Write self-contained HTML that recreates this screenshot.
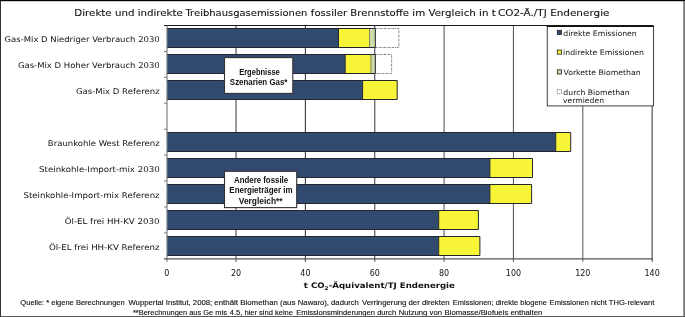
<!DOCTYPE html>
<html lang="de"><head><meta charset="utf-8"><title>Treibhausgasemissionen fossiler Brennstoffe</title>
<style>html,body{margin:0;padding:0;background:#fff}body{width:685px;height:317px;overflow:hidden}svg{display:block}text{fill:#111}</style>
</head><body>
<svg width="685" height="317" viewBox="0 0 685 317">
<rect x="0" y="0" width="685" height="317" fill="#fff"/>
<text x="74.39" y="16" font-family="'DejaVu Sans','Liberation Sans',sans-serif" font-size="9.5" font-weight="normal" textLength="108.48" lengthAdjust="spacingAndGlyphs" stroke="#111" stroke-width="0.1">Direkte und indirekte</text>
<text x="185.50" y="16" font-family="'DejaVu Sans','Liberation Sans',sans-serif" font-size="9.5" font-weight="normal" textLength="121.88" lengthAdjust="spacingAndGlyphs" stroke="#111" stroke-width="0.1">Treibhausgasemissionen</text>
<text x="310.85" y="16" font-family="'DejaVu Sans','Liberation Sans',sans-serif" font-size="9.5" font-weight="normal" textLength="98.06" lengthAdjust="spacingAndGlyphs" stroke="#111" stroke-width="0.1">fossiler Brennstoffe</text>
<text x="412.35" y="16" font-family="'DejaVu Sans','Liberation Sans',sans-serif" font-size="9.5" font-weight="normal" textLength="83.40" lengthAdjust="spacingAndGlyphs" stroke="#111" stroke-width="0.1">im Vergleich in t</text>
<text x="497.93" y="16" font-family="'DejaVu Sans','Liberation Sans',sans-serif" font-size="9.5" font-weight="normal" textLength="111.53" lengthAdjust="spacingAndGlyphs" stroke="#111" stroke-width="0.1">CO2-Ä./TJ Endenergie</text>
<g stroke="#4a4a4a" stroke-width="1.15" fill="none">
<line x1="236.05" y1="25.5" x2="236.05" y2="261.8" stroke="#525252"/>
<line x1="305.40" y1="25.5" x2="305.40" y2="261.8" stroke="#444"/>
<line x1="374.75" y1="25.5" x2="374.75" y2="261.8" stroke="#505050"/>
<line x1="444.10" y1="25.5" x2="444.10" y2="261.8" stroke="#626262"/>
<line x1="513.45" y1="25.5" x2="513.45" y2="261.8" stroke="#626262"/>
<line x1="582.80" y1="25.5" x2="582.80" y2="261.8" stroke="#6c6c6c"/>
<line x1="652.15" y1="25.5" x2="652.15" y2="261.8" stroke="#4a4a4a"/>
</g>
<line x1="164" y1="25.5" x2="652.75" y2="25.5" stroke="#1a1a1a" stroke-width="1.2"/>
<line x1="167.0" y1="25.5" x2="167.0" y2="261.8" stroke="#666" stroke-width="1.0"/>
<line x1="164" y1="258.8" x2="652.75" y2="258.8" stroke="#555" stroke-width="1.15"/>
<g stroke="#666" stroke-width="0.9">
<line x1="164" y1="51.42" x2="166.7" y2="51.42"/>
<line x1="164" y1="77.34" x2="166.7" y2="77.34"/>
<line x1="164" y1="103.27" x2="166.7" y2="103.27"/>
<line x1="164" y1="129.19" x2="166.7" y2="129.19"/>
<line x1="164" y1="155.11" x2="166.7" y2="155.11"/>
<line x1="164" y1="181.03" x2="166.7" y2="181.03"/>
<line x1="164" y1="206.96" x2="166.7" y2="206.96"/>
<line x1="164" y1="232.88" x2="166.7" y2="232.88"/>
</g>
<rect x="375.30" y="28.50" width="23.60" height="19.0" fill="#fff" stroke="#3c3c3c" stroke-width="0.65" stroke-dasharray="2 0.8 0.7 0.8"/>
<rect x="167.30" y="28.50" width="171.20" height="19.0" fill="#324a70"/>
<rect x="338.50" y="28.50" width="31.00" height="19.0" fill="#f8f438"/>
<rect x="369.50" y="28.50" width="5.80" height="19.0" fill="#d0dca8"/>
<path d="M167.30 28.50H375.30V47.50H167.30M338.50 28.50V47.50" fill="none" stroke="#23272f" stroke-width="1"/>
<path d="M369.50 28.50V47.50" fill="none" stroke="#5a5a4a" stroke-width="0.7"/>
<rect x="375.30" y="54.50" width="16.30" height="19.0" fill="#fff" stroke="#3c3c3c" stroke-width="0.65" stroke-dasharray="2 0.8 0.7 0.8"/>
<rect x="167.30" y="54.50" width="177.90" height="19.0" fill="#324a70"/>
<rect x="345.20" y="54.50" width="25.70" height="19.0" fill="#f8f438"/>
<rect x="370.90" y="54.50" width="4.40" height="19.0" fill="#d0dca8"/>
<path d="M167.30 54.50H375.30V73.50H167.30M345.20 54.50V73.50" fill="none" stroke="#23272f" stroke-width="1"/>
<path d="M370.90 54.50V73.50" fill="none" stroke="#5a5a4a" stroke-width="0.7"/>
<rect x="167.30" y="80.50" width="195.30" height="19.0" fill="#324a70"/>
<rect x="362.60" y="80.50" width="34.60" height="19.0" fill="#f8f438"/>
<path d="M167.30 80.50H397.20V99.50H167.30M362.60 80.50V99.50" fill="none" stroke="#23272f" stroke-width="1"/>
<rect x="167.30" y="132.50" width="388.40" height="19.0" fill="#324a70"/>
<rect x="555.70" y="132.50" width="15.00" height="19.0" fill="#f8f438"/>
<path d="M167.30 132.50H570.70V151.50H167.30M555.70 132.50V151.50" fill="none" stroke="#23272f" stroke-width="1"/>
<rect x="167.30" y="158.50" width="322.60" height="19.0" fill="#324a70"/>
<rect x="489.90" y="158.50" width="42.60" height="19.0" fill="#f8f438"/>
<path d="M167.30 158.50H532.50V177.50H167.30M489.90 158.50V177.50" fill="none" stroke="#23272f" stroke-width="1"/>
<rect x="167.30" y="184.50" width="322.60" height="19.0" fill="#324a70"/>
<rect x="489.90" y="184.50" width="41.70" height="19.0" fill="#f8f438"/>
<path d="M167.30 184.50H531.60V203.50H167.30M489.90 184.50V203.50" fill="none" stroke="#23272f" stroke-width="1"/>
<rect x="167.30" y="210.50" width="271.40" height="19.0" fill="#324a70"/>
<rect x="438.70" y="210.50" width="39.70" height="19.0" fill="#f8f438"/>
<path d="M167.30 210.50H478.40V229.50H167.30M438.70 210.50V229.50" fill="none" stroke="#23272f" stroke-width="1"/>
<rect x="167.30" y="236.50" width="271.40" height="19.0" fill="#324a70"/>
<rect x="438.70" y="236.50" width="41.20" height="19.0" fill="#f8f438"/>
<path d="M167.30 236.50H479.90V255.50H167.30M438.70 236.50V255.50" fill="none" stroke="#23272f" stroke-width="1"/>
<text x="4.50" y="42" font-family="'DejaVu Sans','Liberation Sans',sans-serif" font-size="7.9" font-weight="normal" textLength="155.26" lengthAdjust="spacingAndGlyphs" >Gas-Mix D Niedriger Verbrauch 2030</text>
<text x="17.93" y="68" font-family="'DejaVu Sans','Liberation Sans',sans-serif" font-size="7.9" font-weight="normal" textLength="141.80" lengthAdjust="spacingAndGlyphs" >Gas-Mix D Hoher Verbrauch 2030</text>
<text x="75.94" y="94" font-family="'DejaVu Sans','Liberation Sans',sans-serif" font-size="7.9" font-weight="normal" textLength="83.72" lengthAdjust="spacingAndGlyphs" >Gas-Mix D Referenz</text>
<text x="47.87" y="146" font-family="'DejaVu Sans','Liberation Sans',sans-serif" font-size="7.9" font-weight="normal" textLength="111.86" lengthAdjust="spacingAndGlyphs" >Braunkohle West Referenz</text>
<text x="39.09" y="172" font-family="'DejaVu Sans','Liberation Sans',sans-serif" font-size="7.9" font-weight="normal" textLength="120.60" lengthAdjust="spacingAndGlyphs" >Steinkohle-Import-mix 2030</text>
<text x="23.50" y="198" font-family="'DejaVu Sans','Liberation Sans',sans-serif" font-size="7.9" font-weight="normal" textLength="136.10" lengthAdjust="spacingAndGlyphs" >Steinkohle-Import-mix Referenz</text>
<text x="64.71" y="224" font-family="'DejaVu Sans','Liberation Sans',sans-serif" font-size="7.9" font-weight="normal" textLength="94.91" lengthAdjust="spacingAndGlyphs" >Öl-EL frei HH-KV 2030</text>
<text x="48.93" y="250" font-family="'DejaVu Sans','Liberation Sans',sans-serif" font-size="7.9" font-weight="normal" textLength="110.63" lengthAdjust="spacingAndGlyphs" >Öl-EL frei HH-KV Referenz</text>
<g font-family="'DejaVu Sans','Liberation Sans',sans-serif" font-size="8.0" text-anchor="middle">
<text x="166.7" y="275.6">0</text>
<text x="236.0" y="275.6">20</text>
<text x="305.4" y="275.6">40</text>
<text x="374.8" y="275.6">60</text>
<text x="444.1" y="275.6">80</text>
<text x="513.5" y="275.6">100</text>
<text x="582.8" y="275.6">120</text>
<text x="652.1" y="275.6">140</text>
</g>
<text x="303.85" y="288" font-family="'DejaVu Sans','Liberation Sans',sans-serif" font-size="7.6" font-weight="bold" textLength="151.08" lengthAdjust="spacingAndGlyphs" >t CO<tspan font-size="5.2" dy="1.6">2</tspan><tspan dy="-1.6">-Äquivalent/TJ Endenergie</tspan></text>
<rect x="547.3" y="26.3" width="106.2" height="79.6" fill="#fff" stroke="#484848" stroke-width="1.05"/>
<line x1="546.8" y1="26.2" x2="654" y2="26.2" stroke="#111" stroke-width="1.4"/>
<rect x="557.3" y="30.3" width="4.2" height="4.2" fill="#324a70" stroke="#222" stroke-width="0.8"/>
<rect x="557.3" y="50.0" width="4.2" height="4.2" fill="#f8f438" stroke="#222" stroke-width="0.8"/>
<rect x="557.3" y="69.8" width="4.2" height="4.2" fill="#d0dca8" stroke="#222" stroke-width="0.8"/>
<rect x="557.3" y="89.6" width="4.2" height="4.2" fill="#fff" stroke="#555" stroke-width="0.7" stroke-dasharray="1.2 0.8"/>
<text x="563.34" y="36" font-family="'DejaVu Sans','Liberation Sans',sans-serif" font-size="7.5" font-weight="normal" textLength="73.42" lengthAdjust="spacingAndGlyphs" >direkte Emissionen</text>
<text x="563.08" y="55" font-family="'DejaVu Sans','Liberation Sans',sans-serif" font-size="7.5" font-weight="normal" textLength="80.91" lengthAdjust="spacingAndGlyphs" >indirekte Emissionen</text>
<text x="563.43" y="75" font-family="'DejaVu Sans','Liberation Sans',sans-serif" font-size="7.5" font-weight="normal" textLength="77.27" lengthAdjust="spacingAndGlyphs" >Vorkette Biomethan</text>
<text x="563.33" y="95" font-family="'DejaVu Sans','Liberation Sans',sans-serif" font-size="7.5" font-weight="normal" textLength="66.41" lengthAdjust="spacingAndGlyphs" >durch Biomethan</text>
<text x="562.97" y="103" font-family="'DejaVu Sans','Liberation Sans',sans-serif" font-size="7.5" font-weight="normal" textLength="41.08" lengthAdjust="spacingAndGlyphs" >vermieden</text>
<rect x="224.5" y="57.6" width="68.3" height="35.8" fill="#fff" stroke="#333" stroke-width="1.1"/>
<rect x="224.5" y="171.3" width="72.2" height="36.3" fill="#fff" stroke="#333" stroke-width="1.1"/>
<text x="239.15" y="75" font-family="'Liberation Sans','DejaVu Sans',sans-serif" font-size="8.6" font-weight="bold" textLength="40.63" lengthAdjust="spacingAndGlyphs" >Ergebnisse</text>
<text x="229.86" y="85" font-family="'Liberation Sans','DejaVu Sans',sans-serif" font-size="8.6" font-weight="bold" textLength="57.53" lengthAdjust="spacingAndGlyphs" >Szenarien Gas*</text>
<text x="234.02" y="183" font-family="'Liberation Sans','DejaVu Sans',sans-serif" font-size="8.6" font-weight="bold" textLength="54.10" lengthAdjust="spacingAndGlyphs" >Andere fossile</text>
<text x="229.36" y="193" font-family="'Liberation Sans','DejaVu Sans',sans-serif" font-size="8.6" font-weight="bold" textLength="63.14" lengthAdjust="spacingAndGlyphs" >Energieträger im</text>
<text x="238.82" y="204" font-family="'Liberation Sans','DejaVu Sans',sans-serif" font-size="8.6" font-weight="bold" textLength="43.76" lengthAdjust="spacingAndGlyphs" >Vergleich**</text>
<text x="20.38" y="305" font-family="'Liberation Sans','DejaVu Sans',sans-serif" font-size="7.5" font-weight="normal" textLength="104.34" lengthAdjust="spacingAndGlyphs" stroke="#111" stroke-width="0.12">Quelle: * eigene Berechnungen</text>
<text x="128.44" y="305" font-family="'Liberation Sans','DejaVu Sans',sans-serif" font-size="7.5" font-weight="normal" textLength="83.78" lengthAdjust="spacingAndGlyphs" stroke="#111" stroke-width="0.12">Wuppertal Institut, 2008;</text>
<text x="214.35" y="305" font-family="'Liberation Sans','DejaVu Sans',sans-serif" font-size="7.5" font-weight="normal" textLength="81.12" lengthAdjust="spacingAndGlyphs" stroke="#111" stroke-width="0.12">enthält Biomethan (aus</text>
<text x="297.84" y="305" font-family="'Liberation Sans','DejaVu Sans',sans-serif" font-size="7.5" font-weight="normal" textLength="61.01" lengthAdjust="spacingAndGlyphs" stroke="#111" stroke-width="0.12">Nawaro), dadurch</text>
<text x="361.92" y="305" font-family="'Liberation Sans','DejaVu Sans',sans-serif" font-size="7.5" font-weight="normal" textLength="87.63" lengthAdjust="spacingAndGlyphs" stroke="#111" stroke-width="0.12">Verringerung der direkten</text>
<text x="452.80" y="305" font-family="'Liberation Sans','DejaVu Sans',sans-serif" font-size="7.5" font-weight="normal" textLength="94.12" lengthAdjust="spacingAndGlyphs" stroke="#111" stroke-width="0.12">Emissionen; direkte biogene</text>
<text x="549.63" y="305" font-family="'Liberation Sans','DejaVu Sans',sans-serif" font-size="7.5" font-weight="normal" textLength="104.73" lengthAdjust="spacingAndGlyphs" stroke="#111" stroke-width="0.12">Emissionen nicht THG-relevant</text>
<text x="132.90" y="315" font-family="'Liberation Sans','DejaVu Sans',sans-serif" font-size="7.5" font-weight="normal" textLength="93.97" lengthAdjust="spacingAndGlyphs" stroke="#111" stroke-width="0.12">**Berechnungen aus Ge mis</text>
<text x="229.76" y="315" font-family="'Liberation Sans','DejaVu Sans',sans-serif" font-size="7.5" font-weight="normal" textLength="63.26" lengthAdjust="spacingAndGlyphs" stroke="#111" stroke-width="0.12">4.5, hier sind keine</text>
<text x="296.18" y="315" font-family="'Liberation Sans','DejaVu Sans',sans-serif" font-size="7.5" font-weight="normal" textLength="99.96" lengthAdjust="spacingAndGlyphs" stroke="#111" stroke-width="0.12">Emissionsminderungen durch</text>
<text x="398.77" y="315" font-family="'Liberation Sans','DejaVu Sans',sans-serif" font-size="7.5" font-weight="normal" textLength="43.18" lengthAdjust="spacingAndGlyphs" stroke="#111" stroke-width="0.12">Nutzung von</text>
<text x="444.54" y="315" font-family="'Liberation Sans','DejaVu Sans',sans-serif" font-size="7.5" font-weight="normal" textLength="97.76" lengthAdjust="spacingAndGlyphs" stroke="#111" stroke-width="0.12">Biomasse/Biofuels enthalten</text>
<rect x="0" y="0" width="685" height="1.2" fill="#000"/>
<rect x="0" y="0" width="0.85" height="317" fill="#111"/>
<rect x="683.2" y="1" width="1.8" height="316" fill="#7a7a7a"/>
<rect x="0.8" y="316" width="684.2" height="1" fill="#5a5a5a"/>
</svg></body></html>
